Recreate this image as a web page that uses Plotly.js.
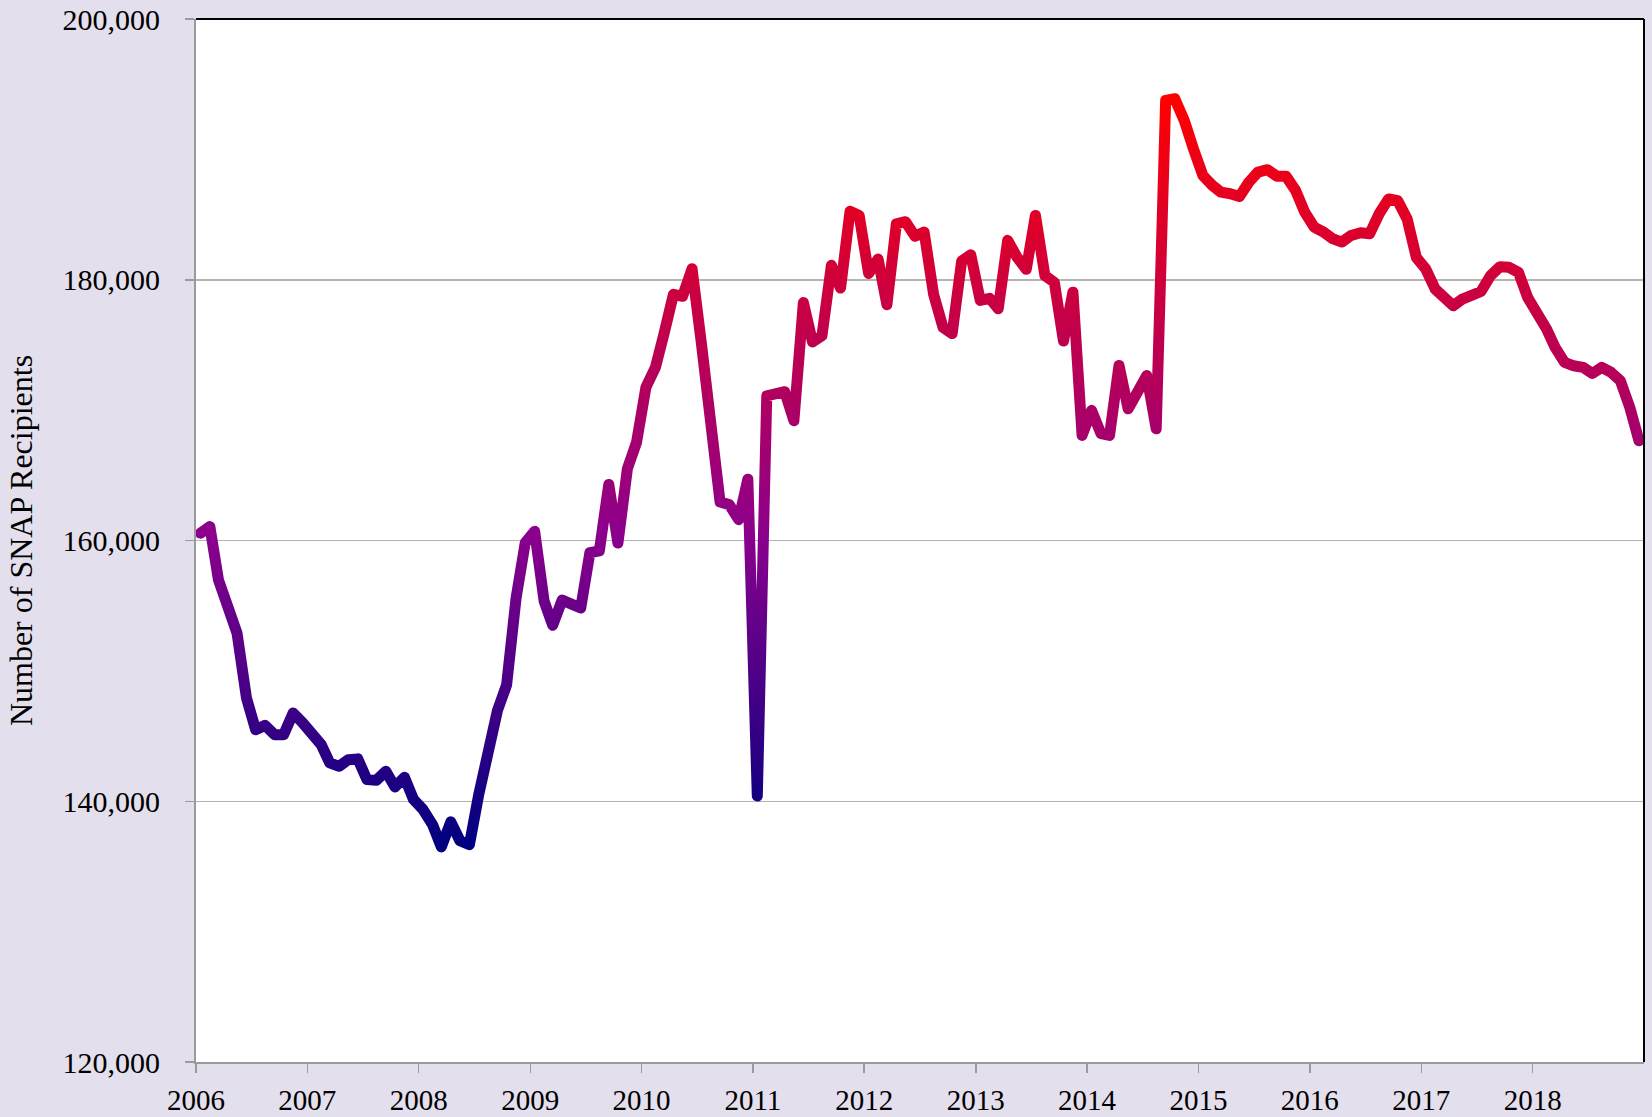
<!DOCTYPE html>
<html>
<head>
<meta charset="utf-8">
<script src="https://cdn.plot.ly/plotly-3.0.1.min.js"></script>
<style>
  html, body { margin: 0; padding: 0; background: #E4DFEC; }
  #chart { width: 1652px; height: 1117px; }
</style>
</head>
<body>
<div id="chart"></div>
<script>
// ---- Data (monthly, Jan 2006 – Dec 2018) ----
const years = [2006, 2007, 2008, 2009, 2010, 2011, 2012, 2013, 2014, 2015, 2016, 2017, 2018];
const monthNums = ['01','02','03','04','05','06','07','08','09','10','11','12'];
const yearLabels = ['2006','2007','2008','2009','2010','2011','2012','2013','2014','2015','2016','2017','2018'];
const yTickVals = [120000, 140000, 160000, 180000, 200000];
const yTickText = ['120,000', '140,000', '160,000', '180,000', '200,000'];

const snapRecipients = [
  // 2006
  160560, 161070, 156990, 154690, 152900, 147920, 145490, 145820, 145110, 145110, 146770, 146050,
  // 2007
  145110, 144340, 142940, 142680, 143190, 143250, 141660, 141610, 142300, 141100, 141840, 140130,
  // 2008
  139360, 138210, 136500, 138420, 136970, 136670, 140450, 144080, 146960, 148920, 155580, 159820,
  // 2009
  160700, 155350, 153500, 155430, 155150, 154820, 159060, 159200, 164300, 159800, 165500, 167530,
  // 2010
  171770, 173280, 175850, 178880, 178730, 180850, 175250, 168930, 162950, 162750, 161600, 164700,
  // 2011
  140400, 171100, 171250, 171410, 169190, 178250, 175230, 175710, 181110, 179360, 185250, 184930,
  // 2012
  180480, 181590, 178090, 184290, 184450, 183340, 183660, 178890, 176340, 175870, 181430, 181910,
  // 2013
  178410, 178570, 177770, 183020, 181750, 180800, 184930, 180320, 179800, 175300, 179050, 168060,
  // 2014
  169980, 168190, 168060, 173430, 170100, 171380, 172660, 168570, 193760, 193880, 192220, 190050,
  // 2015
  188000, 187240, 186720, 186600, 186390, 187490, 188260, 188440, 187930, 187930, 186850, 185190,
  // 2016
  184040, 183660, 183150, 182890, 183400, 183610, 183530, 185060, 186200, 186060, 184650, 181710,
  // 2017
  180820, 179280, 178590, 178010, 178520, 178770, 179100, 180310, 181000, 180950, 180560, 178640,
  // 2018
  177490, 176220, 174810, 173660, 173400, 173280, 172810, 173280, 172890, 172250, 170200, 167650
];

// mid-month dates for each observation
const monthDates = [];
years.forEach(y => monthNums.forEach(m => monthDates.push(y + '-' + m + '-15 12:00')));
const yearTicks = years.map(y => y + '-01-01');

const fontFamily = '"Liberation Serif", "Times New Roman", serif';

const trace = {
  type: 'scatter',
  mode: 'lines',
  x: monthDates,
  y: snapRecipients,
  line: { color: '#800080', width: 11 },
  hoverinfo: 'skip',
  showlegend: false
};

const layout = {
  width: 1652,
  height: 1117,
  paper_bgcolor: '#E4DFEC',
  plot_bgcolor: '#FFFFFF',
  margin: { l: 196, r: 8, t: 19, b: 55, pad: 0 },
  font: { family: fontFamily, size: 29, color: '#000000' },
  xaxis: {
    type: 'date',
    range: ['2006-01-01', '2019-01-01'],
    tickvals: yearTicks,
    ticktext: yearLabels,
    ticks: 'outside',
    ticklen: 9,
    tickwidth: 1.5,
    tickcolor: '#9A9A9A',
    showline: true,
    linecolor: '#9A9A9A',
    linewidth: 2,
    showgrid: false,
    zeroline: false,
    tickfont: { family: fontFamily, size: 29, color: '#000000' },
    ticklabelstandoff: 2,
    fixedrange: true
  },
  yaxis: {
    range: [120000, 200000],
    tickvals: yTickVals,
    ticktext: yTickText,
    ticks: 'outside',
    ticklen: 9,
    tickwidth: 1.5,
    tickcolor: '#9A9A9A',
    showline: true,
    linecolor: '#9A9A9A',
    linewidth: 2,
    showgrid: true,
    gridcolor: '#B4B4B4',
    gridwidth: 1.5,
    zeroline: false,
    tickfont: { family: fontFamily, size: 30, color: '#000000' },
    ticklabelstandoff: 19,
    title: {
      text: 'Number of SNAP Recipients',
      font: { family: fontFamily, size: 32, color: '#000000' },
      standoff: 20
    },
    fixedrange: true
  },
  shapes: [
    { type: 'line', xref: 'paper', yref: 'paper', x0: 0, x1: 1, y0: 1, y1: 1,
      line: { color: '#000000', width: 2 } },
    { type: 'line', xref: 'paper', yref: 'paper', x0: 1, x1: 1, y0: 0, y1: 1,
      line: { color: '#000000', width: 2 } }
  ]
};

Plotly.newPlot('chart', [trace], layout, { staticPlot: true, displayModeBar: false }).then(gd => {
  // vertical colour gradient along the line (low = navy, high = red)
  const svgNS = 'http://www.w3.org/2000/svg';
  const mainSvg = gd.querySelector('svg.main-svg');
  let defs = mainSvg.querySelector('defs');
  if (!defs) { defs = document.createElementNS(svgNS, 'defs'); mainSvg.insertBefore(defs, mainSvg.firstChild); }
  const grad = document.createElementNS(svgNS, 'linearGradient');
  grad.setAttribute('id', 'snapLineGradient');
  grad.setAttribute('x1', '0'); grad.setAttribute('y1', '1');
  grad.setAttribute('x2', '0'); grad.setAttribute('y2', '0');
  const stops = [[0, '#000080'], [0.42, '#8C008C'], [1, '#FF0000']];
  stops.forEach(s => {
    const st = document.createElementNS(svgNS, 'stop');
    st.setAttribute('offset', s[0]);
    st.setAttribute('stop-color', s[1]);
    grad.appendChild(st);
  });
  defs.appendChild(grad);
  gd.querySelectorAll('.scatterlayer .trace path.js-line').forEach(p => {
    p.style.stroke = 'url(#snapLineGradient)';
    p.style.strokeLinejoin = 'round';
    p.style.strokeLinecap = 'round';
  });
});
</script>
</body>
</html>
